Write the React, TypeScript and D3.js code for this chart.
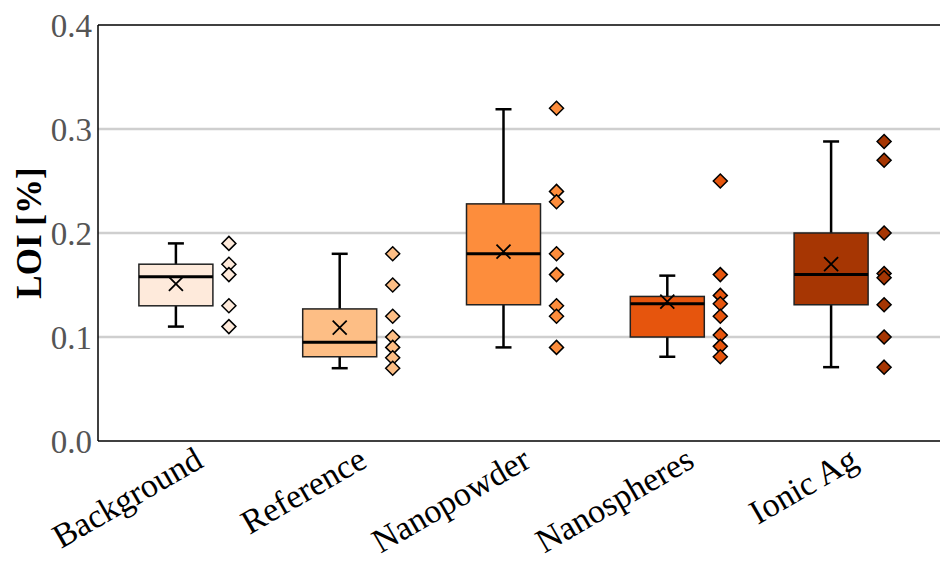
import React from "react";
import * as d3 from "d3";

const categories = ["Background", "Reference", "Nanopowder", "Nanospheres", "Ionic Ag"];
const fills = ["#feeadb", "#fdbe85", "#fd8d3c", "#e6550d", "#a63603"];

const points: number[][] = [
  [0.19, 0.17, 0.16, 0.13, 0.11],
  [0.18, 0.15, 0.12, 0.1, 0.09, 0.08, 0.07],
  [0.32, 0.24, 0.23, 0.18, 0.16, 0.13, 0.12, 0.09],
  [0.25, 0.16, 0.14, 0.132, 0.12, 0.102, 0.091, 0.081],
  [0.288, 0.27, 0.2, 0.161, 0.157, 0.131, 0.1, 0.071],
];

const q1 = [0.13, 0.081, 0.131, 0.1, 0.131];
const median = [0.158, 0.095, 0.18, 0.132, 0.16];
const q3 = [0.17, 0.127, 0.228, 0.139, 0.2];
const whiskerLow = [0.11, 0.07, 0.09, 0.081, 0.071];
const whiskerHigh = [0.19, 0.18, 0.319, 0.159, 0.288];
const means = [0.151, 0.109, 0.182, 0.134, 0.17];

const yTicks = [0.0, 0.1, 0.2, 0.3, 0.4];

const W = 940;
const H = 563;
const left = 98;
const top = 25;
const bottom = 441;
const right = 940;

export default function App() {
  const y = d3.scaleLinear().domain([0, 0.4]).range([bottom, top]);
  const x = d3.scaleBand<string>().domain(categories).range([94, 913]).padding(0);
  const bw = 74;
  const pointOffset = 53;
  const capW = 16;
  const font = "'Liberation Serif', 'Times New Roman', serif";
  const dia = 7;

  return (
    <svg width={W} height={H} style={{ position: "absolute", left: 0, top: 0, background: "#fff" }}>
      {yTicks.filter((t) => t > 0 && t < 0.4).map((t) => (
        <line key={t} x1={left} x2={right} y1={y(t)} y2={y(t)} stroke="#cfcfcf" strokeWidth={2.5} />
      ))}
      <line x1={left} x2={right} y1={y(0.4)} y2={y(0.4)} stroke="#000" strokeWidth={1.5} />
      <line x1={left} x2={right} y1={bottom} y2={bottom} stroke="#000" strokeWidth={1.5} />
      <line x1={left} x2={left} y1={top} y2={bottom} stroke="#000" strokeWidth={1.5} />
      {yTicks.map((t) => (
        <text key={t} x={left - 6} y={y(t)} dy="0.35em" textAnchor="end" fontFamily={font} fontSize={33} fill="#555">
          {t.toFixed(1)}
        </text>
      ))}
      <text
        transform={`translate(41, ${(top + bottom) / 2}) rotate(-90)`}
        textAnchor="middle"
        fontFamily={font}
        fontSize={35}
        fontWeight="bold"
        fill="#000"
      >
        LOI [%]
      </text>
      {categories.map((c, i) => {
        const cx = (x(c) as number) + x.bandwidth() / 2;
        const px = cx + pointOffset;
        return (
          <g key={c}>
            <line x1={cx} x2={cx} y1={y(q3[i])} y2={y(whiskerHigh[i])} stroke="#000" strokeWidth={2.5} />
            <line x1={cx} x2={cx} y1={y(q1[i])} y2={y(whiskerLow[i])} stroke="#000" strokeWidth={2.5} />
            <line x1={cx - capW / 2} x2={cx + capW / 2} y1={y(whiskerHigh[i])} y2={y(whiskerHigh[i])} stroke="#000" strokeWidth={2.5} />
            <line x1={cx - capW / 2} x2={cx + capW / 2} y1={y(whiskerLow[i])} y2={y(whiskerLow[i])} stroke="#000" strokeWidth={2.5} />
            <rect
              x={cx - bw / 2}
              y={y(q3[i])}
              width={bw}
              height={y(q1[i]) - y(q3[i])}
              fill={fills[i]}
              stroke="#222"
              strokeWidth={1.5}
            />
            <line x1={cx - bw / 2} x2={cx + bw / 2} y1={y(median[i])} y2={y(median[i])} stroke="#000" strokeWidth={3} />
            <path
              d={`M${cx - 7},${y(means[i]) - 7}L${cx + 7},${y(means[i]) + 7}M${cx - 7},${y(means[i]) + 7}L${cx + 7},${y(means[i]) - 7}`}
              stroke="#000"
              strokeWidth={1.8}
              fill="none"
            />
            {points[i].map((v, j) => (
              <path
                key={j}
                d={`M${px},${y(v) - dia}L${px + dia},${y(v)}L${px},${y(v) + dia}L${px - dia},${y(v)}Z`}
                fill={fills[i]}
                stroke="#000"
                strokeWidth={1.5}
              />
            ))}
            <text
              transform={`translate(${cx + 29}, 466) rotate(-30)`}
              textAnchor="end"
              fontFamily={font}
              fontSize={34}
              fill="#000"
            >
              {c}
            </text>
          </g>
        );
      })}
    </svg>
  );
}
